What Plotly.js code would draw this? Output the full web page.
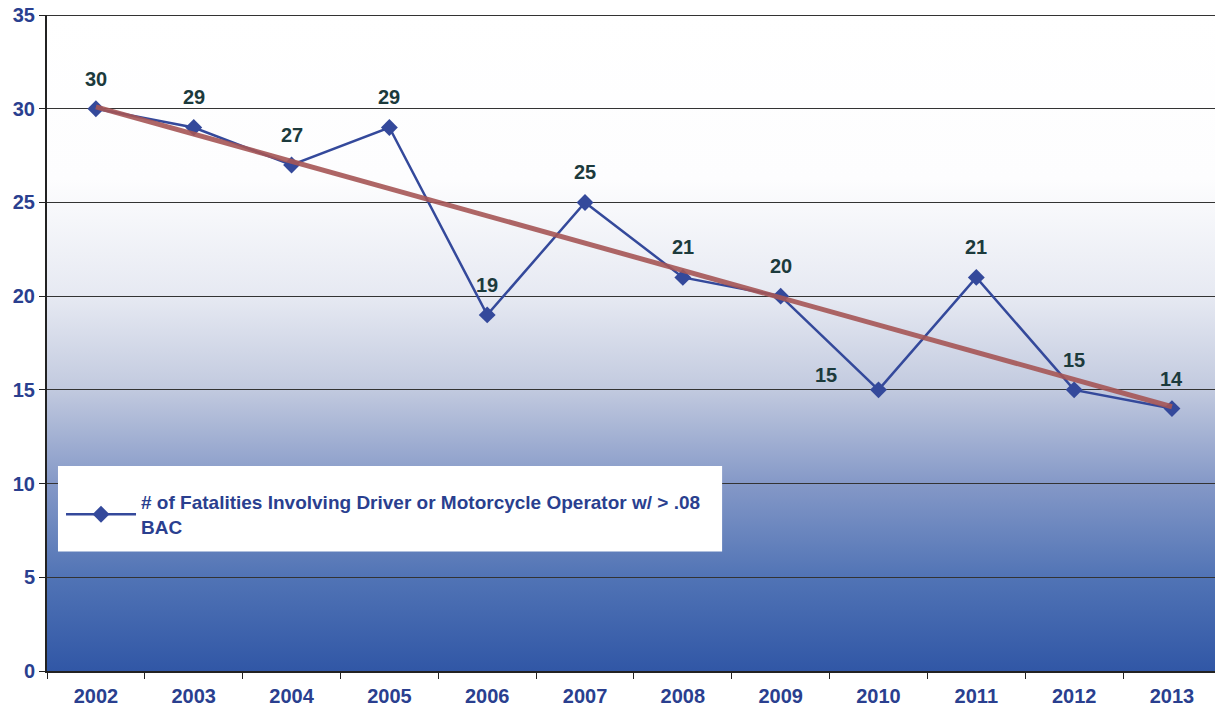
<!DOCTYPE html>
<html>
<head>
<meta charset="utf-8">
<script src="https://cdn.plot.ly/plotly-3.0.1.min.js"></script>
<style>
  body { margin: 0; background: #fff; }
  #plot { width: 1215px; height: 710px; }
</style>
</head>
<body>
<div id="plot"></div>
<script>
// values
const years = ['2002', '2003', '2004', '2005', '2006', '2007', '2008', '2009', '2010', '2011', '2012', '2013'];
const fatalities = [30, 29, 27, 29, 19, 25, 21, 20, 15, 21, 15, 14];
const trendYears = ['2002', '2013'];
const trendValues = [30.1, 14.1];
const seriesName = '# of Fatalities Involving Driver or Motorcycle Operator w/ > .08<br>BAC';

const blue = '#34499b';
const labelColor = '#1c3a3c';
const fontFam = 'Liberation Sans, Arial, sans-serif';

// plot area background: white at top fading to dark blue
const bgSvg = '<svg xmlns="http://www.w3.org/2000/svg" width="100" height="656" preserveAspectRatio="none">' +
  '<defs><linearGradient id="g" x1="0" y1="0" x2="0" y2="1">' +
  '<stop offset="0" stop-color="#ffffff"/>' +
  '<stop offset="0.25" stop-color="#fdfdfe"/>' +
  '<stop offset="0.43" stop-color="#e6e9f2"/>' +
  '<stop offset="0.57" stop-color="#c2cadf"/>' +
  '<stop offset="0.715" stop-color="#8498c7"/>' +
  '<stop offset="0.86" stop-color="#5073b5"/>' +
  '<stop offset="1" stop-color="#3157a6"/>' +
  '</linearGradient></defs><rect width="100" height="656" fill="url(#g)"/></svg>';

const main = {
    x: years,
    y: fatalities,
    name: seriesName,
    type: 'scatter',
    mode: 'lines+markers',
    line: { color: blue, width: 2.5 },
    marker: { symbol: 'diamond', size: 13, color: blue }
};

const trend = {
    x: trendYears,
    y: trendValues,
    type: 'scatter',
    mode: 'lines',
    showlegend: false,
    hoverinfo: 'skip',
    line: { color: 'rgba(165,85,85,0.9)', width: 5 }
};

// data labels above each point, 2010 sits to the left
const labels = years.map(function(yr, i) {
    const left = yr === '2010';
    return {
        xref: 'x', yref: 'y',
        x: i,
        y: fatalities[i],
        text: String(fatalities[i]),
        showarrow: false,
        xshift: left ? -52 : 0,
        yshift: left ? 15 : 30,
        font: { family: fontFam, size: 20, color: labelColor, weight: 'bold' }
    };
});

const layout = {
    width: 1215,
    height: 710,
    margin: { l: 47, r: 0, t: 15, b: 39 },
    paper_bgcolor: '#ffffff',
    plot_bgcolor: 'rgba(0,0,0,0)',
    font: { family: fontFam, size: 20, color: '#2a3f8f' },
    images: [{
        source: 'data:image/svg+xml;charset=utf-8,' + encodeURIComponent(bgSvg),
        xref: 'paper', yref: 'paper',
        x: 0, y: 1, sizex: 1, sizey: 1,
        sizing: 'stretch',
        xanchor: 'left', yanchor: 'top',
        layer: 'below'
    }],
    xaxis: {
        type: 'category',
        categoryorder: 'array',
        categoryarray: years,
        range: [-0.5, 11.44],
        tickson: 'boundaries',
        ticks: 'outside',
        ticklen: 6,
        tickcolor: '#222',
        ticklabelstandoff: 6,
        showgrid: false,
        showline: true,
        linecolor: '#222',
        linewidth: 1.5,
        tickfont: { size: 20, color: '#2a3f8f', weight: 'bold' },
        fixedrange: true
    },
    yaxis: {
        range: [0, 35],
        dtick: 5,
        ticks: 'outside',
        ticklen: 6,
        tickcolor: '#222',
        showgrid: true,
        gridcolor: '#333',
        gridwidth: 1,
        showline: true,
        linecolor: '#222',
        linewidth: 2,
        zeroline: false,
        tickfont: { size: 20, color: '#2a3f8f', weight: 'bold' },
        fixedrange: true
    },
    shapes: [
        {
            type: 'line', xref: 'paper', yref: 'y',
            x0: 0, x1: 1, y0: 35, y1: 35,
            line: { color: '#333', width: 2 }
        },
        {
            // white legend box
            type: 'rect', xref: 'paper', yref: 'paper', layer: 'above',
            x0: 0.0094, x1: 0.578, y0: 0.1822, y1: 0.3125,
            fillcolor: '#ffffff', line: { width: 0 }
        }
    ],
    legend: {
        x: 0.012, y: 0.2866,
        xanchor: 'left', yanchor: 'top',
        bgcolor: 'rgba(0,0,0,0)',
        borderwidth: 0,
        font: { size: 19, color: '#2a3f8f', weight: 'bold' },
        itemwidth: 70
    },
    showlegend: true,
    annotations: labels
};

Plotly.newPlot('plot', [main, trend], layout, { displayModeBar: false, staticPlot: true });
</script>
</body>
</html>
